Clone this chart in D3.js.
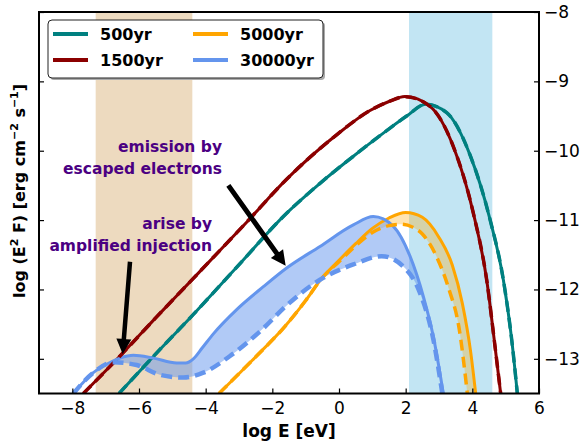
<!DOCTYPE html>
<html>
<head>
<meta charset="utf-8">
<script src="https://cdn.jsdelivr.net/npm/d3@7"></script>
<style>
body { margin: 0; background: #fff; }
svg text { font-family: "DejaVu Sans", sans-serif; }
</style>
</head>
<body>
<div id="chart"></div>
<script>
// spectra: log E [eV] vs log E^2 F
var logE500 = [-6.6, -5.5, -4.37, -3.07, -1.57, -0.57, 0.43, 1.43, 2.03, 2.6, 3.23, 3.93, 4.53, 4.93, 5.18, 5.35];
var flux500 = [-13.5, -12.93, -12.36, -11.68, -10.9, -10.47, -10.08, -9.71, -9.5, -9.33, -9.45, -10.06, -10.99, -11.86, -12.72, -13.5];

var logE1500 = [-7.67, -6.57, -5.5, -4.37, -2.77, -1.57, -0.07, 0.93, 1.5, 1.98, 2.73, 3.43, 4.03, 4.43, 4.68, 4.85];
var flux1500 = [-13.5, -12.96, -12.41, -11.84, -11.03, -10.41, -9.77, -9.42, -9.29, -9.22, -9.36, -9.94, -10.9, -11.86, -12.82, -13.5];

var logE5000 = [-3.6, -2.6, -1.6, -1.0, -0.5, 0.0, 0.5, 1.0, 1.5, 2.0, 2.5, 3.0, 3.4, 3.7, 3.95, 4.1];
var flux5000 = [-13.5, -13.02, -12.52, -12.16, -11.83, -11.58, -11.34, -11.12, -10.97, -10.89, -10.96, -11.25, -11.65, -12.2, -12.9, -13.5];
var logE5000d = [-3.6, -2.6, -1.6, -1.0, -0.5, 0.0, 0.5, 1.0, 1.5, 1.85, 2.2, 2.5, 2.9, 3.3, 3.6, 3.85];
var flux5000d = [-13.5, -13.02, -12.52, -12.16, -11.83, -11.6, -11.37, -11.18, -11.08, -11.06, -11.1, -11.2, -11.5, -12.0, -12.55, -13.5];

var logE30000 = [-7.97, -7.37, -6.9, -6.57, -6.17, -5.57, -4.87, -4.6, -4.37, -4.1, -3.77, -3.07, -2.27, -1.57, -0.57, 0.43, 1.03, 1.63, 2.13, 2.53, 2.83, 3.13];
var flux30000 = [-13.5, -13.2, -13.06, -12.99, -12.95, -12.99, -13.06, -13.06, -13.0, -12.84, -12.64, -12.29, -11.96, -11.69, -11.38, -11.07, -10.95, -11.09, -11.52, -12.1, -12.68, -13.5];
var logE30000d = [-7.97, -7.37, -6.77, -6.07, -5.37, -4.67, -4.07, -3.27, -2.27, -1.57, -0.57, 0.43, 1.28, 1.93, 2.43, 2.83, 3.1];
var flux30000d = [-13.5, -13.2, -13.05, -13.09, -13.23, -13.27, -13.2, -12.96, -12.56, -12.23, -11.86, -11.64, -11.52, -11.67, -12.05, -12.72, -13.5];

var ageLabels = ["500yr", "1500yr", "5000yr", "30000yr"];
var ageColors = ["#008080", "#8b0000", "#ffa500", "#6495ed"];

// shaded observing bands (log E)
var radioBand = [-7.3, -4.4];
var xrayBand = [2.1, 4.6];

var xTicks = [-8, -6, -4, -2, 0, 2, 4, 6];
var yTicks = [-13, -12, -11, -10, -9, -8];

var W = 583, H = 446;
var pl = 39, pr = 539, pt = 12, pb = 393.5;

var svg = d3.select("#chart").append("svg")
    .attr("width", W)
    .attr("height", H);

var x = d3.scaleLinear().domain([-9, 6]).range([pl, pr]);
var y = d3.scaleLinear().domain([-13.5, -8]).range([pb, pt]);

svg.append("clipPath").attr("id", "clip")
    .append("rect")
    .attr("x", pl).attr("y", pt)
    .attr("width", pr - pl).attr("height", pb - pt);

var plot = svg.append("g").attr("clip-path", "url(#clip)");

plot.append("rect")
    .attr("x", x(radioBand[0])).attr("y", pt)
    .attr("width", x(radioBand[1]) - x(radioBand[0]))
    .attr("height", pb - pt)
    .attr("fill", "#eddabf");

plot.append("rect")
    .attr("x", x(xrayBand[0])).attr("y", pt)
    .attr("width", x(xrayBand[1]) - x(xrayBand[0]))
    .attr("height", pb - pt)
    .attr("fill", "#c2e5f3");

function pts(xs, ys) {
    return xs.map(function(d, i) { return [x(d), y(ys[i])]; });
}

var line = d3.line().curve(d3.curveMonotoneX);

// band between solid and dashed curve
function band(xs, ys, xd, yd) {
    var a = line(pts(xs, ys));
    var b = line(pts(xd, yd).reverse());
    return a + "L" + b.slice(1) + "Z";
}

plot.append("path")
    .attr("d", band(logE5000, flux5000, logE5000d, flux5000d))
    .attr("fill", "#ffa500").attr("fill-opacity", 0.3);

plot.append("path")
    .attr("d", band(logE30000, flux30000, logE30000d, flux30000d))
    .attr("fill", "#6495ed").attr("fill-opacity", 0.5);

var solid = [[logE500, flux500], [logE1500, flux1500], [logE5000, flux5000], [logE30000, flux30000]];
var dashed = [[logE500, flux500], [logE1500, flux1500], [logE5000d, flux5000d], [logE30000d, flux30000d]];

solid.forEach(function(s, i) {
    plot.append("path")
        .attr("d", line(pts(s[0], s[1])))
        .attr("fill", "none")
        .attr("stroke", ageColors[i])
        .attr("stroke-width", 3);
});

dashed.forEach(function(s, i) {
    plot.append("path")
        .attr("d", line(pts(s[0], s[1])))
        .attr("fill", "none")
        .attr("stroke", ageColors[i])
        .attr("stroke-width", i == 3 ? 4.5 : 3.5)
        .attr("stroke-dasharray", "11,6");
});

// arrows
function arrow(x0, y0, x1, y1, shaft, headW, headL) {
    var p0 = [x(x0), y(y0)], p1 = [x(x1), y(y1)];
    var dx = p1[0] - p0[0], dy = p1[1] - p0[1];
    var len = Math.sqrt(dx * dx + dy * dy);
    var ux = dx / len, uy = dy / len, nx = -uy, ny = ux;
    var bx = p1[0] - ux * headL, by = p1[1] - uy * headL;
    var p = [
        [p0[0] + nx * shaft / 2, p0[1] + ny * shaft / 2],
        [bx + nx * shaft / 2, by + ny * shaft / 2],
        [bx + nx * headW / 2, by + ny * headW / 2],
        p1,
        [bx - nx * headW / 2, by - ny * headW / 2],
        [bx - nx * shaft / 2, by - ny * shaft / 2],
        [p0[0] - nx * shaft / 2, p0[1] - ny * shaft / 2]
    ];
    svg.append("polygon")
        .attr("points", p.map(function(d) { return d.join(","); }).join(" "))
        .attr("fill", "#000");
}

arrow(-3.32, -10.5, -1.6, -11.66, 5, 15, 15);
arrow(-6.27, -11.6, -6.49, -12.93, 4.5, 15, 15);

var note = svg.append("g")
    .attr("font-size", 15.5)
    .attr("font-weight", "bold")
    .attr("fill", "#4b0082")
    .attr("text-anchor", "end");

note.append("text").attr("x", 222).attr("y", 152).text("emission by");
note.append("text").attr("x", 222).attr("y", 173.5).text("escaped electrons");
note.append("text").attr("x", 212).attr("y", 229).text("arise by");
note.append("text").attr("x", 212).attr("y", 250.5).text("amplified injection");

// axes with inward ticks
svg.append("g")
    .attr("transform", "translate(0," + pb + ")")
    .call(d3.axisBottom(x).tickValues(xTicks).tickFormat(d3.format("d")).tickSizeInner(-5).tickSizeOuter(0).tickPadding(8))
    .call(function(g) {
        g.select(".domain").remove();
        g.selectAll("line").attr("stroke-width", 1.2);
        g.selectAll("text").attr("font-size", 17).attr("fill", "#000");
    });

svg.append("g")
    .attr("transform", "translate(" + pr + ",0)")
    .call(d3.axisRight(y).tickValues(yTicks).tickFormat(d3.format("d")).tickSizeInner(-5).tickSizeOuter(0).tickPadding(5))
    .call(function(g) {
        g.select(".domain").remove();
        g.selectAll("line").attr("stroke-width", 1.2);
        g.selectAll("text").attr("font-size", 17).attr("fill", "#000");
    });

svg.append("g")
    .attr("transform", "translate(" + pl + ",0)")
    .call(d3.axisLeft(y).tickValues(yTicks).tickSizeInner(-5).tickSizeOuter(0).tickFormat(""))
    .call(function(g) {
        g.select(".domain").remove();
        g.selectAll("line").attr("stroke-width", 1.2);
    });

svg.append("rect")
    .attr("x", pl).attr("y", pt)
    .attr("width", pr - pl).attr("height", pb - pt)
    .attr("fill", "none")
    .attr("stroke", "#000")
    .attr("stroke-width", 2);

// axis titles
svg.append("text")
    .attr("x", (pl + pr) / 2).attr("y", 437)
    .attr("text-anchor", "middle")
    .attr("font-size", 17)
    .attr("font-weight", "bold")
    .text("log E [eV]");

var yl = svg.append("text")
    .attr("transform", "translate(25,191) rotate(-90)")
    .attr("text-anchor", "middle")
    .attr("font-size", 16)
    .attr("font-weight", "bold");
yl.append("tspan").text("log (E");
yl.append("tspan").attr("font-size", 11).attr("dy", -7).text("2");
yl.append("tspan").attr("dy", 7).text(" F) [erg cm");
yl.append("tspan").attr("font-size", 11).attr("dy", -7).text("−2");
yl.append("tspan").attr("dy", 7).text(" s");
yl.append("tspan").attr("font-size", 11).attr("dy", -7).text("−1");
yl.append("tspan").attr("dy", 7).text("]");

// legend
var lg = svg.append("g");
lg.append("rect")
    .attr("x", 50).attr("y", 22).attr("width", 275).attr("height", 58)
    .attr("rx", 4).attr("fill", "#aaa");
lg.append("rect")
    .attr("x", 48).attr("y", 20).attr("width", 275).attr("height", 58)
    .attr("rx", 4).attr("fill", "#fff")
    .attr("stroke", "#222").attr("stroke-width", 1);

var legX = [53, 193], legY = [34, 60];
var order = [0, 1, 2, 3];
order.forEach(function(i) {
    var cx = legX[Math.floor(i / 2)], cy = legY[i % 2];
    lg.append("line")
        .attr("x1", cx).attr("x2", cx + 35)
        .attr("y1", cy).attr("y2", cy)
        .attr("stroke", ageColors[i]).attr("stroke-width", 4);
    lg.append("text")
        .attr("x", cx + 47).attr("y", cy + 6)
        .attr("font-size", 16).attr("font-weight", "bold")
        .text(ageLabels[i]);
});
</script>
</body>
</html>
